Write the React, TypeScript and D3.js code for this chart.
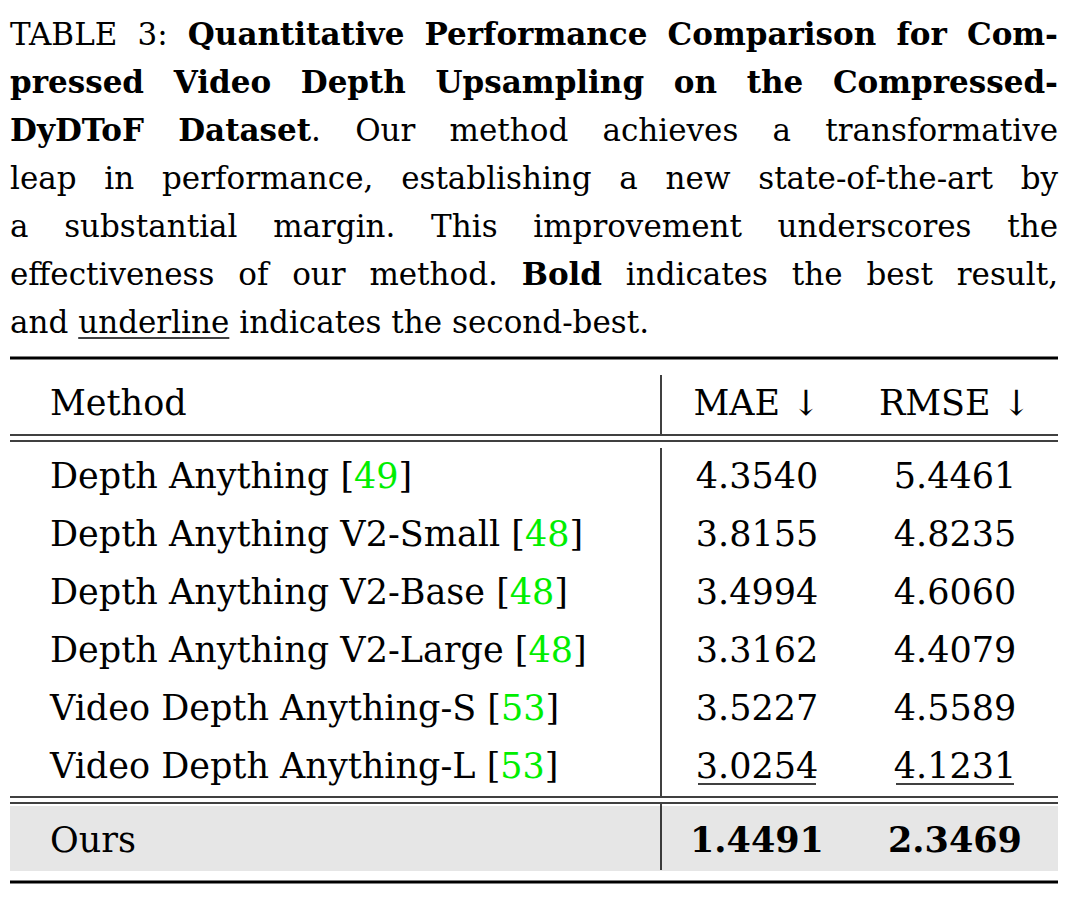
import React, { useEffect, useRef } from "react";
import * as d3 from "d3";

const methods = ["Depth Anything", "Depth Anything V2-Small", "Depth Anything V2-Base", "Depth Anything V2-Large", "Video Depth Anything-S", "Video Depth Anything-L"];
const refs = ["49", "48", "48", "48", "53", "53"];
const mae = ["4.3540", "3.8155", "3.4994", "3.3162", "3.5227", "3.0254"];
const rmse = ["5.4461", "4.8235", "4.6060", "4.4079", "4.5589", "4.1231"];
const ours = { name: "Ours", mae: "1.4491", rmse: "2.3469" };

type Seg = [string, boolean, boolean?];
const captionLines: Seg[][] = [
  [["TABLE 3:", false], ["Quantitative Performance Comparison for Com-", true]],
  [["pressed Video Depth Upsampling on the Compressed-", true]],
  [["DyDToF Dataset", true], [". Our method achieves a transformative", false]],
  [["leap in performance, establishing a new state-of-the-art by", false]],
  [["a substantial margin. This improvement underscores the", false]],
  [["effectiveness of our method.", false], ["Bold", true], ["indicates the best result,", false]],
  [["and", false], ["underline", false, true], ["indicates the second-best.", false]],
];

const FONT = "'DejaVu Serif', serif";
const L = 10, R = 1058;

export default function App() {
  const ref = useRef<SVGGElement>(null);
  useEffect(() => {
    const svg = d3.select(ref.current!);
    svg.selectAll("*").remove();
    const fs = 31;
    const lineY = d3.scaleLinear().domain([0, 6]).range([45, 333]);
    captionLines.forEach((segs, li) => {
      const words: { t: string; b: boolean; u: boolean; glue: boolean }[] = [];
      segs.forEach((s, si) => {
        const parts = s[0].split(" ").filter((p) => p.length);
        parts.forEach((p, pi) => {
          const glue = pi === 0 && si > 0 && s[0].startsWith(".");
          words.push({ t: p, b: s[1], u: !!s[2], glue });
        });
      });
      const y = lineY(li);
      const nodes = words.map((w) =>
        svg.append("text").attr("y", y).attr("font-family", FONT).attr("font-size", fs)
          .attr("font-weight", w.b ? "bold" : "normal").attr("fill", "#000").text(w.t)
      );
      const widths = nodes.map((n) => (n.node() as SVGTextElement).getComputedTextLength());
      const total = d3.sum(widths);
      const gaps = words.filter((w, i) => i > 0 && !w.glue).length;
      const justify = li < captionLines.length - 1;
      const gap = justify ? (R - L - total) / gaps : fs * 0.32;
      let x = L;
      nodes.forEach((n, i) => {
        if (i > 0 && !words[i].glue) x += gap;
        n.attr("x", x);
        if (words[i].u) svg.append("line").attr("x1", x).attr("x2", x + widths[i]).attr("y1", y + 5).attr("y2", y + 5).attr("stroke", "#000").attr("stroke-width", 1.5);
        x += widths[i];
      });
    });
  }, []);

  const rowY = d3.scaleLinear().domain([0, 5]).range([488, 778]);
  const fs = 35;
  const maeX = 757, rmseX = 955, vX = 661;
  return (
    <svg width={1072} height={899} style={{ position: "absolute", left: 0, top: 0 }}>
      <rect width={1072} height={899} fill="#fff" />
      <g ref={ref}></g>
      <rect x={L} y={806} width={R - L} height={65} fill="#e6e6e6" />
      <line x1={L} x2={R} y1={358} y2={358} stroke="#000" strokeWidth={3} />
      <line x1={L} x2={R} y1={435} y2={435} stroke="#000" strokeWidth={1.5} />
      <line x1={L} x2={R} y1={441} y2={441} stroke="#000" strokeWidth={1.5} />
      <line x1={L} x2={R} y1={797} y2={797} stroke="#000" strokeWidth={1.5} />
      <line x1={L} x2={R} y1={803} y2={803} stroke="#000" strokeWidth={1.5} />
      <line x1={L} x2={R} y1={882} y2={882} stroke="#000" strokeWidth={3} />
      <line x1={vX} x2={vX} y1={375} y2={434} stroke="#000" strokeWidth={1.5} />
      <line x1={vX} x2={vX} y1={448} y2={796} stroke="#000" strokeWidth={1.5} />
      <line x1={vX} x2={vX} y1={804} y2={870} stroke="#000" strokeWidth={1.5} />
      <g fontFamily={FONT} fontSize={fs} fill="#000">
        <text x={50} y={415}>Method</text>
        <text x={maeX} y={415} textAnchor="middle">MAE ↓</text>
        <text x={rmseX} y={415} textAnchor="middle">RMSE ↓</text>
        {methods.map((m, i) => (
          <text key={m} x={50} y={rowY(i)}>
            {m} [<tspan fill="#00ee00">{refs[i]}</tspan>]
          </text>
        ))}
        {mae.map((v, i) => <text key={"m" + i} x={maeX} y={rowY(i)} textAnchor="middle">{v}</text>)}
        {rmse.map((v, i) => <text key={"r" + i} x={rmseX} y={rowY(i)} textAnchor="middle">{v}</text>)}
        <line x1={maeX - 59} x2={maeX + 59} y1={rowY(5) + 6} y2={rowY(5) + 6} stroke="#000" strokeWidth={1.5} />
        <line x1={rmseX - 59} x2={rmseX + 59} y1={rowY(5) + 6} y2={rowY(5) + 6} stroke="#000" strokeWidth={1.5} />
        <text x={50} y={852}>{ours.name}</text>
        <text x={maeX} y={852} textAnchor="middle" fontWeight="bold">{ours.mae}</text>
        <text x={rmseX} y={852} textAnchor="middle" fontWeight="bold">{ours.rmse}</text>
      </g>
    </svg>
  );
}
